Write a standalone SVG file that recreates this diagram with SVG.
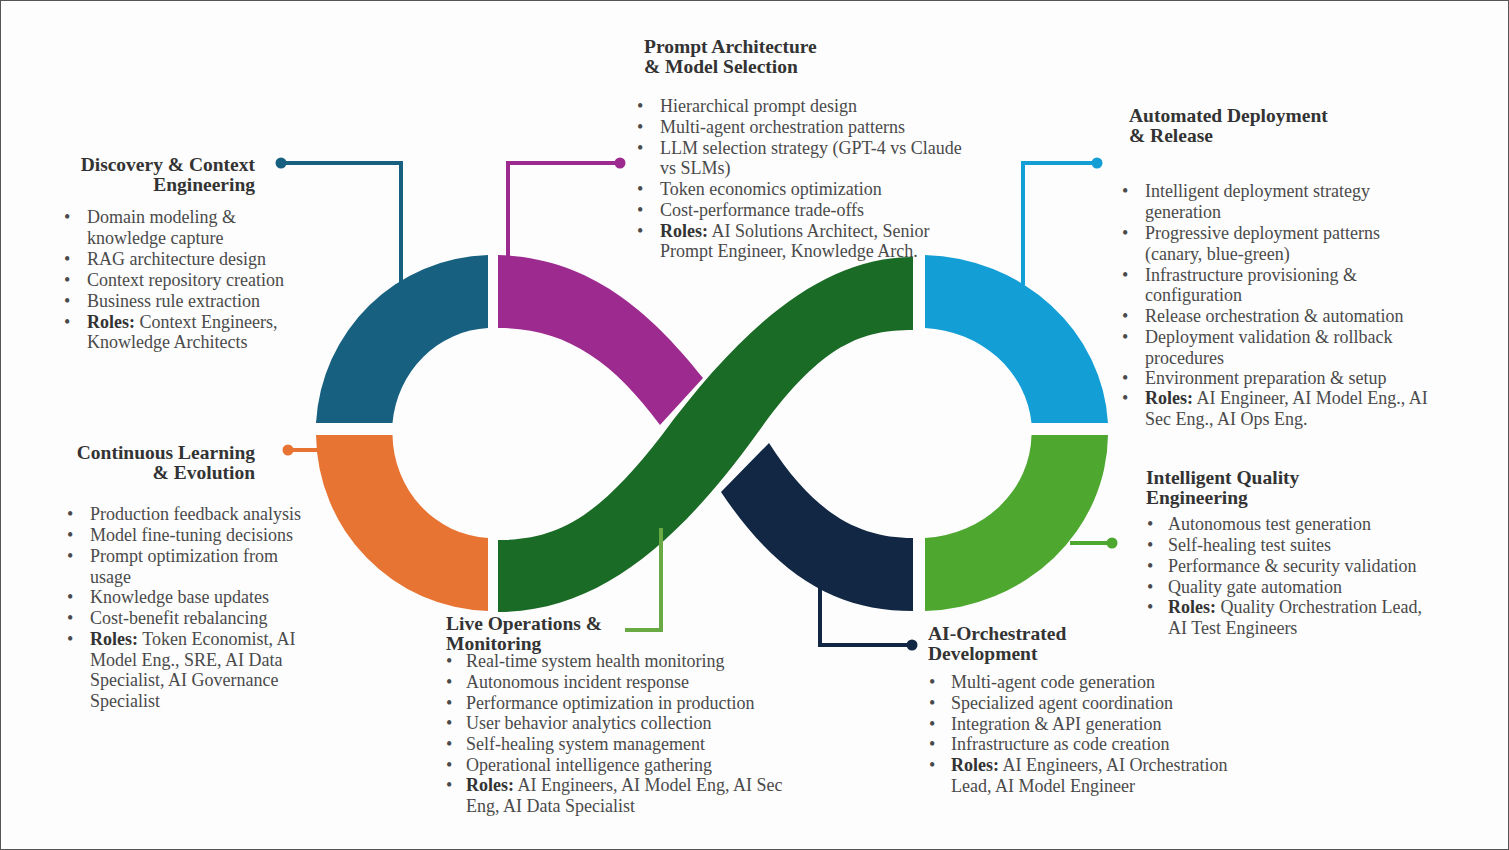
<svg xmlns="http://www.w3.org/2000/svg" width="1509" height="850" viewBox="0 0 1509 850">
<style>
.t{font-family:"Liberation Serif","DejaVu Serif",serif;font-size:19.5px;font-weight:bold;fill:#333}
.b{font-family:"Liberation Serif","DejaVu Serif",serif;font-size:18px;fill:#4a4a4a}
.b tspan.r{font-weight:bold;fill:#333}
.c{fill:none;stroke-width:4}
</style>
<rect x="0.5" y="0.5" width="1508" height="849" fill="#fdfdfd" stroke="#555"/>
<g id="ring">
<path id="discovery-seg" d="M316,423 A177,178 0 0 1 488,255 L488,328 A101,105 0 0 0 392.5,423 Z" fill="#176080"/>
<path id="learning-seg" d="M316,435 A177,178 0 0 0 488,611 L488,538 A101,105 0 0 1 392.5,435 Z" fill="#e87433"/>
<path id="prompt-seg" d="M498,255 C585,258 645,305 703,378 L660,425 C612,360 565,328 498,328 Z" fill="#9c2a8f"/>
<path id="liveops-seg" d="M913,257 C820,257 740,330 662,435 C600,515 560,540 498,540 L498,612 C600,612 680,540 756,435 C820,345 860,330 913,330 Z" fill="#1a6b25"/>
<path id="dev-seg" d="M721,492 C780,580 840,611 913,611 L913,538 C860,538 815,515 769,443 Z" fill="#112743"/>
<path id="deploy-seg" d="M925,255 A189,178 0 0 1 1108,423 L1031.5,423 A113,105 0 0 0 925,328 Z" fill="#139fd6"/>
<path id="quality-seg" d="M925,611 A189,178 0 0 0 1108,435 L1031.5,435 A113,105 0 0 1 925,538 Z" fill="#4ea82f"/>
</g>
<g id="connectors">
<path class="c" d="M281,163 H401 V285" stroke="#176080"/><circle cx="281" cy="163" r="5.5" fill="#176080"/>
<path class="c" d="M620,163 H508 V258" stroke="#9c2a8f"/><circle cx="620" cy="163" r="5.5" fill="#9c2a8f"/>
<path class="c" d="M1097,163 H1023 V285" stroke="#139fd6"/><circle cx="1097" cy="163" r="5.5" fill="#139fd6"/>
<path class="c" d="M288,450 H318" stroke="#e87433"/><circle cx="288" cy="450" r="5.5" fill="#e87433"/>
<path class="c" d="M1112,543 H1070" stroke="#4ea82f"/><circle cx="1112" cy="543" r="5.5" fill="#4ea82f"/>
<path class="c" d="M661,528 V630 H625" stroke="#6aaa45"/>
<path class="c" d="M820,575 V645 H912" stroke="#112743"/><circle cx="912" cy="645" r="5.5" fill="#112743"/>
</g>
<g id="discovery">
<text class="t" text-anchor="end"><tspan x="255" y="171">Discovery &amp; Context</tspan><tspan x="255" y="191">Engineering</tspan></text>
<text class="b"><tspan x="64" y="223">•</tspan><tspan x="87" y="223">Domain modeling &amp;</tspan><tspan x="87" y="244">knowledge capture</tspan><tspan x="64" y="265">•</tspan><tspan x="87" y="265">RAG architecture design</tspan><tspan x="64" y="286">•</tspan><tspan x="87" y="286">Context repository creation</tspan><tspan x="64" y="307">•</tspan><tspan x="87" y="307">Business rule extraction</tspan><tspan x="64" y="328">•</tspan><tspan x="87" y="328" class="r">Roles:</tspan><tspan> Context Engineers,</tspan><tspan x="87" y="348">Knowledge Architects</tspan></text>
</g>
<g id="prompt">
<text class="t"><tspan x="644" y="53">Prompt Architecture</tspan><tspan x="644" y="73">&amp; Model Selection</tspan></text>
<text class="b"><tspan x="637" y="112">•</tspan><tspan x="660" y="112">Hierarchical prompt design</tspan><tspan x="637" y="133">•</tspan><tspan x="660" y="133">Multi-agent orchestration patterns</tspan><tspan x="637" y="154">•</tspan><tspan x="660" y="154">LLM selection strategy (GPT-4 vs Claude</tspan><tspan x="660" y="174">vs SLMs)</tspan><tspan x="637" y="195">•</tspan><tspan x="660" y="195">Token economics optimization</tspan><tspan x="637" y="216">•</tspan><tspan x="660" y="216">Cost-performance trade-offs</tspan><tspan x="637" y="237">•</tspan><tspan x="660" y="237" class="r">Roles:</tspan><tspan> AI Solutions Architect, Senior</tspan><tspan x="660" y="257">Prompt Engineer, Knowledge Arch.</tspan></text>
</g>
<g id="deploy">
<text class="t"><tspan x="1129" y="122">Automated Deployment</tspan><tspan x="1129" y="142">&amp; Release</tspan></text>
<text class="b"><tspan x="1122" y="197">•</tspan><tspan x="1145" y="197">Intelligent deployment strategy</tspan><tspan x="1145" y="218">generation</tspan><tspan x="1122" y="239">•</tspan><tspan x="1145" y="239">Progressive deployment patterns</tspan><tspan x="1145" y="260">(canary, blue-green)</tspan><tspan x="1122" y="281">•</tspan><tspan x="1145" y="281">Infrastructure provisioning &amp;</tspan><tspan x="1145" y="301">configuration</tspan><tspan x="1122" y="322">•</tspan><tspan x="1145" y="322">Release orchestration &amp; automation</tspan><tspan x="1122" y="343">•</tspan><tspan x="1145" y="343">Deployment validation &amp; rollback</tspan><tspan x="1145" y="364">procedures</tspan><tspan x="1122" y="384">•</tspan><tspan x="1145" y="384">Environment preparation &amp; setup</tspan><tspan x="1122" y="404">•</tspan><tspan x="1145" y="404" class="r">Roles:</tspan><tspan> AI Engineer, AI Model Eng., AI</tspan><tspan x="1145" y="425">Sec Eng., AI Ops Eng.</tspan></text>
</g>
<g id="learning">
<text class="t" text-anchor="end"><tspan x="255" y="459">Continuous Learning</tspan><tspan x="255" y="479">&amp; Evolution</tspan></text>
<text class="b"><tspan x="67" y="520">•</tspan><tspan x="90" y="520">Production feedback analysis</tspan><tspan x="67" y="541">•</tspan><tspan x="90" y="541">Model fine-tuning decisions</tspan><tspan x="67" y="562">•</tspan><tspan x="90" y="562">Prompt optimization from</tspan><tspan x="90" y="583">usage</tspan><tspan x="67" y="603">•</tspan><tspan x="90" y="603">Knowledge base updates</tspan><tspan x="67" y="624">•</tspan><tspan x="90" y="624">Cost-benefit rebalancing</tspan><tspan x="67" y="645">•</tspan><tspan x="90" y="645" class="r">Roles:</tspan><tspan> Token Economist, AI</tspan><tspan x="90" y="666">Model Eng., SRE, AI Data</tspan><tspan x="90" y="686">Specialist, AI Governance</tspan><tspan x="90" y="707">Specialist</tspan></text>
</g>
<g id="liveops">
<text class="t"><tspan x="446" y="630">Live Operations &amp;</tspan><tspan x="446" y="650">Monitoring</tspan></text>
<text class="b"><tspan x="446" y="667">•</tspan><tspan x="466" y="667">Real-time system health monitoring</tspan><tspan x="446" y="688">•</tspan><tspan x="466" y="688">Autonomous incident response</tspan><tspan x="446" y="709">•</tspan><tspan x="466" y="709">Performance optimization in production</tspan><tspan x="446" y="729">•</tspan><tspan x="466" y="729">User behavior analytics collection</tspan><tspan x="446" y="750">•</tspan><tspan x="466" y="750">Self-healing system management</tspan><tspan x="446" y="771">•</tspan><tspan x="466" y="771">Operational intelligence gathering</tspan><tspan x="446" y="791">•</tspan><tspan x="466" y="791" class="r">Roles:</tspan><tspan> AI Engineers, AI Model Eng, AI Sec</tspan><tspan x="466" y="812">Eng, AI Data Specialist</tspan></text>
</g>
<g id="dev">
<text class="t"><tspan x="928" y="640">AI-Orchestrated</tspan><tspan x="928" y="660">Development</tspan></text>
<text class="b"><tspan x="929" y="688">•</tspan><tspan x="951" y="688">Multi-agent code generation</tspan><tspan x="929" y="709">•</tspan><tspan x="951" y="709">Specialized agent coordination</tspan><tspan x="929" y="730">•</tspan><tspan x="951" y="730">Integration &amp; API generation</tspan><tspan x="929" y="750">•</tspan><tspan x="951" y="750">Infrastructure as code creation</tspan><tspan x="929" y="771">•</tspan><tspan x="951" y="771" class="r">Roles:</tspan><tspan> AI Engineers, AI Orchestration</tspan><tspan x="951" y="792">Lead, AI Model Engineer</tspan></text>
</g>
<g id="quality">
<text class="t"><tspan x="1146" y="484">Intelligent Quality</tspan><tspan x="1146" y="504">Engineering</tspan></text>
<text class="b"><tspan x="1147" y="530">•</tspan><tspan x="1168" y="530">Autonomous test generation</tspan><tspan x="1147" y="551">•</tspan><tspan x="1168" y="551">Self-healing test suites</tspan><tspan x="1147" y="572">•</tspan><tspan x="1168" y="572">Performance &amp; security validation</tspan><tspan x="1147" y="593">•</tspan><tspan x="1168" y="593">Quality gate automation</tspan><tspan x="1147" y="613">•</tspan><tspan x="1168" y="613" class="r">Roles:</tspan><tspan> Quality Orchestration Lead,</tspan><tspan x="1168" y="634">AI Test Engineers</tspan></text>
</g>
</svg>
